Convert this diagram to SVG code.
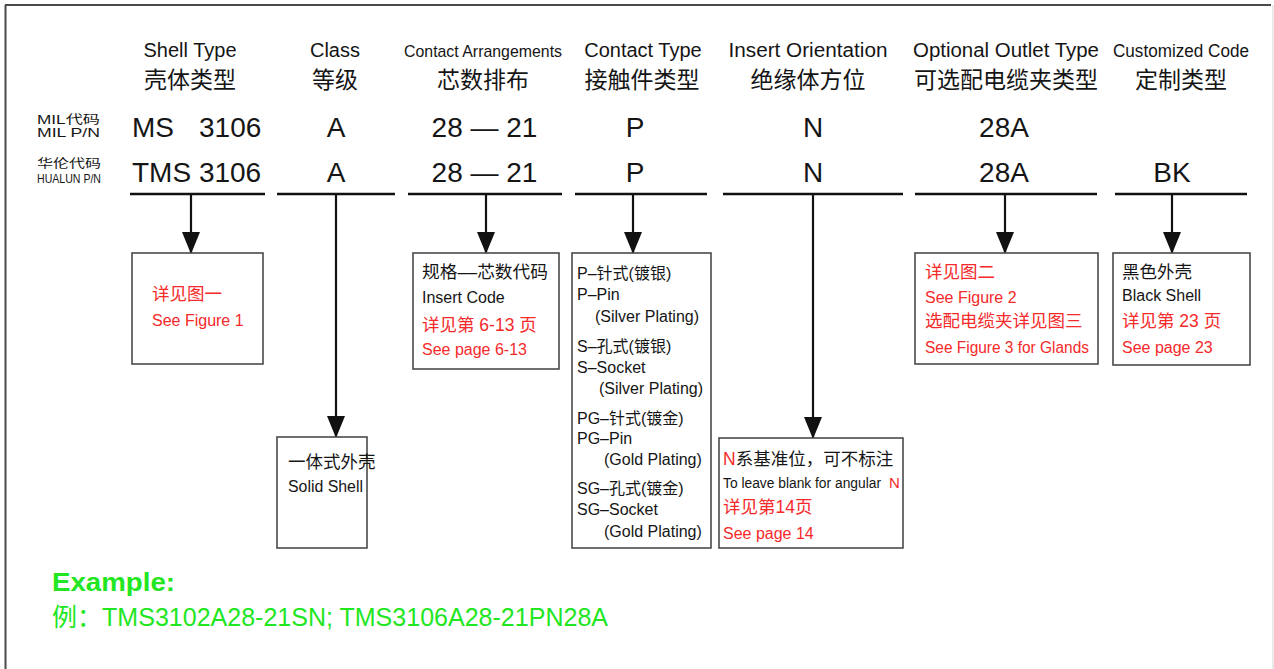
<svg xmlns="http://www.w3.org/2000/svg" width="1274" height="669" viewBox="0 0 1274 669">
<style>
text{font-family:"Liberation Sans","Noto Sans CJK SC",sans-serif;fill:#151515}
.h{font-size:20px;text-anchor:middle}
.hc{font-size:23px;text-anchor:middle}
.v{font-size:28px}
.vm{font-size:28px;text-anchor:middle}
.lab{font-size:12px}
.bx{fill:#fff;stroke:#4a4a4a;stroke-width:1.6}
.t{font-size:16px}
.tc{font-size:17.5px}
.r{fill:#f52a2a}
.ul{stroke:#111;stroke-width:2.6;fill:none}
.ar{stroke:#111;stroke-width:2.2;fill:none;marker-end:url(#ah)}
.g{fill:#22e622}
</style>
<defs>
<marker id="ah" markerUnits="userSpaceOnUse" markerWidth="22" markerHeight="18" viewBox="0 0 22 18" refX="21" refY="9" orient="auto">
<path d="M0,0 L22,9 L0,18 Z" fill="#111"/>
</marker>
</defs>
<rect x="0" y="0" width="1274" height="669" fill="#fff"/>
<g id="frame">
<line x1="5" y1="5" x2="1271" y2="5" stroke="#4a4a4a" stroke-width="2"/>
<line x1="5.5" y1="5" x2="5.5" y2="669" stroke="#4a4a4a" stroke-width="2"/>
<line x1="1273" y1="5" x2="1273" y2="669" stroke="#dcdcdc" stroke-width="1.2"/>
</g>
<g id="row-labels">
<text class="lab" x="37" y="124" textLength="63" lengthAdjust="spacingAndGlyphs">MIL代码</text>
<text class="lab" x="37" y="137" textLength="63" lengthAdjust="spacingAndGlyphs">MIL P/N</text>
<text class="lab" x="37" y="168" textLength="64" lengthAdjust="spacingAndGlyphs">华伦代码</text>
<text x="37" y="183" style="font-size:13px" textLength="64" lengthAdjust="spacingAndGlyphs">HUALUN P/N</text>
</g>
<g id="col-shell">
<text class="h" x="190" y="57">Shell Type</text>
<text class="hc" x="190" y="88">壳体类型</text>
<text class="v" x="132" y="137">MS</text>
<text class="v" x="199" y="137">3106</text>
<text class="v" x="132" y="182">TMS 3106</text>
</g>
<g id="col-class">
<text class="h" x="335" y="57">Class</text>
<text class="hc" x="335" y="88">等级</text>
<text class="vm" x="336" y="137">A</text>
<text class="vm" x="336" y="182">A</text>
</g>
<g id="col-arr">
<text class="h" x="483" y="57" style="font-size:17px" textLength="158" lengthAdjust="spacingAndGlyphs">Contact Arrangements</text>
<text class="hc" x="483" y="88">芯数排布</text>
<text class="vm" x="484.5" y="137">28 — 21</text>
<text class="vm" x="484.5" y="182">28 — 21</text>
</g>
<g id="col-ctype">
<text class="h" x="643" y="57">Contact Type</text>
<text class="hc" x="642" y="88">接触件类型</text>
<text class="vm" x="635" y="137">P</text>
<text class="vm" x="635" y="182">P</text>
</g>
<g id="col-orient">
<text class="h" x="808" y="57" textLength="159" lengthAdjust="spacingAndGlyphs">Insert Orientation</text>
<text class="hc" x="808" y="88">绝缘体方位</text>
<text class="vm" x="813" y="137">N</text>
<text class="vm" x="813" y="182">N</text>
</g>
<g id="col-outlet">
<text class="h" x="1006" y="57" textLength="186" lengthAdjust="spacingAndGlyphs">Optional Outlet Type</text>
<text class="hc" x="1006" y="88">可选配电缆夹类型</text>
<text class="vm" x="1004" y="137">28A</text>
<text class="vm" x="1004" y="182">28A</text>
</g>
<g id="col-custom">
<text class="h" x="1181" y="57" style="font-size:18px" textLength="136" lengthAdjust="spacingAndGlyphs">Customized Code</text>
<text class="hc" x="1181" y="88">定制类型</text>
<text class="vm" x="1172" y="182">BK</text>
</g>
<g id="connectors">
<line class="ul" x1="130" y1="194" x2="265" y2="194"/>
<line class="ul" x1="277" y1="194" x2="395" y2="194"/>
<line class="ul" x1="408" y1="194" x2="562" y2="194"/>
<line class="ul" x1="575" y1="194" x2="707" y2="194"/>
<line class="ul" x1="723" y1="194" x2="903" y2="194"/>
<line class="ul" x1="915" y1="194" x2="1097" y2="194"/>
<line class="ul" x1="1115" y1="194" x2="1247" y2="194"/>
<line class="ar" x1="191" y1="194" x2="191" y2="253"/>
<line class="ar" x1="336" y1="194" x2="336" y2="437"/>
<line class="ar" x1="486" y1="194" x2="486" y2="253"/>
<line class="ar" x1="633" y1="194" x2="633" y2="253"/>
<line class="ar" x1="813" y1="194" x2="813" y2="438"/>
<line class="ar" x1="1005" y1="194" x2="1005" y2="253"/>
<line class="ar" x1="1172" y1="194" x2="1172" y2="253"/>
</g>
<g id="box-shell">
<rect class="bx" x="132" y="253" width="131" height="111"/>
<text class="tc r" x="152" y="300">详见图一</text>
<text class="t r" x="152" y="326">See Figure 1</text>
</g>
<g id="box-class">
<rect class="bx" x="277" y="437" width="90" height="111"/>
<text class="tc" x="288" y="468">一体式外壳</text>
<text class="t" x="288" y="492" textLength="75" lengthAdjust="spacingAndGlyphs">Solid Shell</text>
</g>
<g id="box-arr">
<rect class="bx" x="413" y="253" width="146" height="116"/>
<text class="tc" x="422" y="278" textLength="126" lengthAdjust="spacingAndGlyphs">规格––芯数代码</text>
<text class="t" x="422" y="303">Insert Code</text>
<text class="tc r" x="422" y="331">详见第 6-13 页</text>
<text class="t r" x="422" y="355">See page 6-13</text>
</g>
<g id="box-ctype">
<rect class="bx" x="572" y="253" width="139" height="295"/>
<text class="t" x="577" y="279">P–针式(镀银)</text>
<text class="t" x="577" y="300">P–Pin</text>
<text class="t" x="595" y="322">(Silver Plating)</text>
<text class="t" x="577" y="352">S–孔式(镀银)</text>
<text class="t" x="577" y="373">S–Socket</text>
<text class="t" x="599" y="394">(Silver Plating)</text>
<text class="t" x="577" y="424">PG–针式(镀金)</text>
<text class="t" x="577" y="444">PG–Pin</text>
<text class="t" x="604" y="465">(Gold Plating)</text>
<text class="t" x="577" y="494">SG–孔式(镀金)</text>
<text class="t" x="577" y="515">SG–Socket</text>
<text class="t" x="604" y="537">(Gold Plating)</text>
</g>
<g id="box-orient">
<rect class="bx" x="719" y="438" width="184" height="110"/>
<text class="tc" x="723" y="465"><tspan class="r">N</tspan>系基准位，可不标注</text>
<text x="723" y="488" style="font-size:13.8px">To leave blank for angular</text>
<text class="r" x="889" y="488" style="font-size:15px">N</text>
<text class="tc r" x="723" y="513">详见第14页</text>
<text class="t r" x="723" y="539">See page 14</text>
</g>
<g id="box-outlet">
<rect class="bx" x="915" y="253" width="183" height="111"/>
<text class="tc r" x="925" y="278">详见图二</text>
<text class="t r" x="925" y="303">See Figure 2</text>
<text class="tc r" x="925" y="327">选配电缆夹详见图三</text>
<text class="t r" x="925" y="353" textLength="164" lengthAdjust="spacingAndGlyphs">See Figure 3 for Glands</text>
</g>
<g id="box-custom">
<rect class="bx" x="1113" y="253" width="137" height="112"/>
<text class="tc" x="1122" y="278">黑色外壳</text>
<text class="t" x="1122" y="301">Black Shell</text>
<text class="tc r" x="1122" y="327">详见第 23 页</text>
<text class="t r" x="1122" y="353">See page 23</text>
</g>
<g id="example">
<text class="g" x="52" y="591" style="font-size:25px;font-weight:bold" textLength="123" lengthAdjust="spacingAndGlyphs">Example:</text>
<text class="g" x="52" y="626" style="font-size:25px" textLength="556" lengthAdjust="spacingAndGlyphs">例：TMS3102A28-21SN; TMS3106A28-21PN28A</text>
</g>
</svg>
